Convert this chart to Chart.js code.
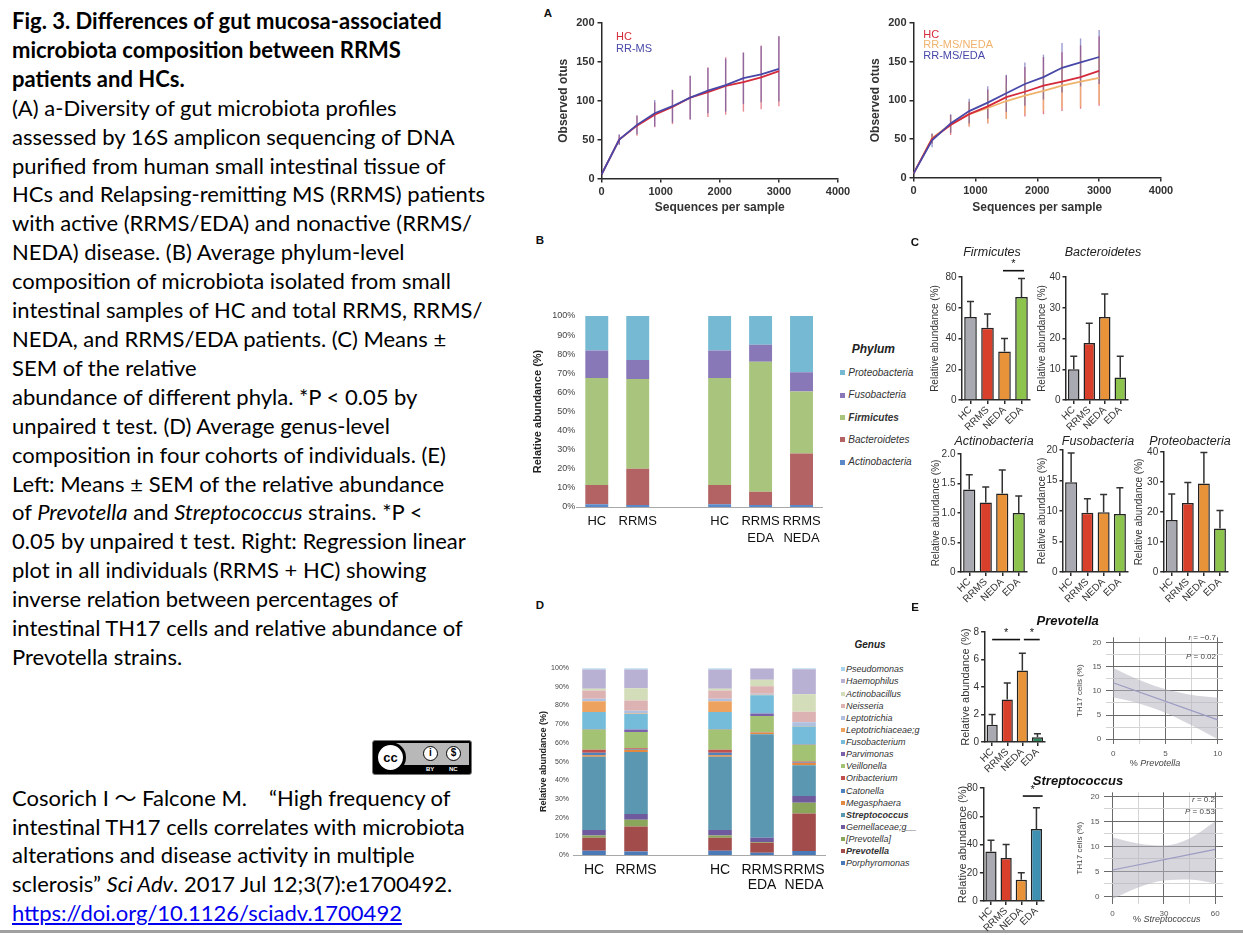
<!DOCTYPE html>
<html>
<head>
<meta charset="utf-8">
<script src="https://cdn.jsdelivr.net/npm/chart.js@4.4.1/dist/chart.umd.min.js"></script>
<style>
  body { margin: 0; background: #fff; }
  #page { position: relative; width: 1243px; height: 935px; overflow: hidden; background: #fff; }
  canvas { position: absolute; }
  .cap { position: absolute; left: 12px; font-family: Lato, 'Noto Sans', 'Noto Sans CJK JP', sans-serif; font-size: 22px; line-height: 28.9px; color: #000; white-space: nowrap; }
  .cap b { font-weight: 700; }
  .t { position: absolute; font-family: 'Liberation Sans', Arial, sans-serif; white-space: nowrap; line-height: 1; }
  .lbl { font-weight: bold; font-size: 11.5px; color: #111; }
  .sw { position: absolute; width: 5px; height: 5px; }
  #rule { position: absolute; left: 0; top: 930px; width: 1243px; height: 3px; background: #a0a0a0; }
  #cc { position: absolute; left: 372px; top: 740px; width: 100px; height: 35px; background: #000; border-radius: 3px; border: 1px solid #777; box-sizing: border-box; }
  #cc .band { position: absolute; left: 22px; top: 2px; right: 2px; height: 22px; background: #b8b8b8; }
  #cc .ring { position: absolute; left: 2px; top: 1px; width: 31px; height: 31px; border-radius: 50%; background: #fff; border: 3px solid #000; box-sizing: border-box; font: bold 13px 'Liberation Sans', sans-serif; text-align: center; line-height: 25px; }
  #cc .ico { position: absolute; top: 5px; width: 15px; height: 15px; border-radius: 50%; background: #fff; border: 1.5px solid #000; box-sizing: border-box; font: bold 10px 'Liberation Sans', sans-serif; text-align: center; line-height: 12px; }
  #cc .sm { position: absolute; top: 25px; font: bold 6px 'Liberation Sans', sans-serif; color: #fff; }
</style>
</head>
<body>
<div id="page">

<div class="cap" style="top:7px">
<b>Fig. 3. Differences of gut mucosa-associated</b><br>
<b>microbiota composition between RRMS</b><br>
<b>patients and HCs.</b><br>
(A) a-Diversity of gut microbiota profiles<br>
assessed by 16S amplicon sequencing of DNA<br>
purified from human small intestinal tissue of<br>
HCs and Relapsing-remitting MS (RRMS) patients<br>
with active (RRMS/EDA) and nonactive (RRMS/<br>
NEDA) disease. (B) Average phylum-level<br>
composition of microbiota isolated from small<br>
intestinal samples of HC and total RRMS, RRMS/<br>
NEDA, and RRMS/EDA patients. (C) Means ±<br>
SEM of the relative<br>
abundance of different phyla. *P &lt; 0.05 by<br>
unpaired t test. (D) Average genus-level<br>
composition in four cohorts of individuals. (E)<br>
Left: Means ± SEM of the relative abundance<br>
of <i>Prevotella</i> and <i>Streptococcus</i> strains. *P &lt;<br>
0.05 by unpaired t test. Right: Regression linear<br>
plot in all individuals (RRMS + HC) showing<br>
inverse relation between percentages of<br>
intestinal TH17 cells and relative abundance of<br>
Prevotella strains.
</div>

<div id="cc">
  <div class="band"></div>
  <div class="ring">cc</div>
  <div class="ico" style="left:50px">i</div>
  <div class="ico" style="left:73px">$</div>
  <div class="sm" style="left:53px">BY</div>
  <div class="sm" style="left:76px">NC</div>
</div>

<div class="cap" style="top:783.8px;line-height:28.7px">
Cosorich I 〜 Falcone M.　“High frequency of<br>
intestinal TH17 cells correlates with microbiota<br>
alterations and disease activity in multiple<br>
sclerosis” <i>Sci Adv</i>. 2017 Jul 12;3(7):e1700492.<br>
<span style="color:#0000ee;text-decoration:underline">https://doi.org/10.1126/sciadv.1700492</span>
</div>

<div id="rule"></div>
</div>

<script>
// ---------- data ----------
// A: rarefaction curves (observed OTUs vs sequences per sample), mean and sd
const seqDepth   = [0, 300, 600, 900, 1200, 1500, 1800, 2100, 2400, 2700, 3000];
const otuHC      = [5, 50, 68, 82, 92, 104, 111, 119, 124, 130, 138];
const otuHCsd    = [0, 6, 13, 16, 22, 28, 32, 37, 38, 41, 45];
const otuRRMS    = [5, 50, 69, 84, 93, 104, 113, 120, 129, 134, 141];
const otuRRMSsd  = [0, 7, 12, 17, 21, 28, 29, 34, 33, 36, 42];
const otuNEDA    = [5, 51, 69, 82, 90, 99, 106, 112, 119, 124, 129];
const otuNEDAsd  = [0, 6, 10, 16, 19, 23, 24, 26, 29, 32, 33];
const otuEDA     = [5, 48, 70, 86, 97, 109, 121, 130, 142, 149, 156];
const otuEDAsd   = [0, 9, 12, 16, 21, 24, 28, 29, 32, 31, 35];

// B: phylum composition (%), third slot is an empty gap
const groups   = ['HC', 'RRMS', '', 'HC', ['RRMS', 'EDA'], ['RRMS', 'NEDA']];
const phylumNames = ['Actinobacteria', 'Bacteroidetes', 'Firmicutes', 'Fusobacteria', 'Proteobacteria'];
const phActino = [1.5, 1, null, 1.5, 1, 1];
const phBact   = [10, 19, null, 10, 7, 27];
const phFirm   = [56, 47, null, 56, 68, 32.5];
const phFuso   = [14.5, 10, null, 14.5, 9, 10];
const phProteo = [18, 23, null, 18, 15, 29.5];
const phylumColors = ['#5a88c8', '#b36363', '#a9c57d', '#8878b8', '#75b9d2'];

// C / E: means and top of SEM bar
const cohorts   = ['HC', 'RRMS', 'NEDA', 'EDA'];
const firmMean  = [54, 47, 31.5, 67];     const firmErr  = [64, 56, 40, 79];
const bactMean  = [10, 18.5, 27, 7.3];    const bactErr  = [14.2, 25, 34.5, 14.2];
const actMean   = [1.4, 1.18, 1.33, 1.0]; const actErr   = [1.65, 1.44, 1.73, 1.29];
const fusMean   = [14.7, 9.7, 9.8, 9.5];  const fusErr   = [19.5, 12, 12.7, 13.8];
const proMean   = [17.3, 23, 29.5, 14.5]; const proErr   = [26, 29.8, 39.8, 20.5];
const prevMean  = [1.25, 3.1, 5.2, 0.35]; const prevErr  = [2.0, 4.3, 6.45, 0.6];
const strepMean = [35, 30.5, 15, 51];     const strepErr = [43, 40, 20, 66];

// D: genus composition (%), listed bottom to top of the stack
const genusNames = ['Porphyromonas', 'Prevotella', '[Prevotella]', 'Gemellaceae;g__', 'Streptococcus',
  'Megasphaera', 'Catonella', 'Oribacterium', 'Veillonella', 'Parvimonas', 'Fusobacterium',
  'Leptotrichiaceae;g', 'Leptotrichia', 'Neisseria', 'Actinobacillus', 'Haemophilus', 'Pseudomonas'];
const genusColors = ['#4a7ab8', '#a34c4c', '#8aa65a', '#6f5a9e', '#5b97b0',
  '#e3893f', '#4f81bd', '#c0504d', '#a3c274', '#7a62aa', '#74bcd9',
  '#eda35f', '#aebfe0', '#dcb2b3', '#d4ddb9', '#b9b1d3', '#a9d3ec'];
const gHC   = [2.3, 6.9, 1.2, 3.0, 39.2, 0.8, 1.3, 1.7, 10.8, 0.3, 9.0, 5.8, 1.4, 4.3, 1.0, 10.3, 0.7];
const gRRMS = [1.9, 13.4, 3.6, 3.1, 33.2, 1.2, 0.3, 0.5, 8.6, 1.4, 8.3, 0.3, 1.4, 5.5, 6.5, 10.1, 0.7];
const gEDA  = [1.2, 5.3, 0.5, 2.2, 55.5, 0.9, 0.1, 0.2, 8.5, 1.4, 9.7, 0.3, 0.5, 4.0, 3.5, 6.2, 0.0];
const gNEDA = [2.1, 20.1, 5.8, 3.6, 16.5, 1.2, 0.2, 0.6, 8.9, 0.3, 9.5, 0.2, 2.0, 5.7, 9.4, 13.4, 0.5];

// E right: regression fits with confidence band
const prevBandX  = [0, 2, 4, 6, 8, 10];
const prevBandLo = [8.7, 7.7, 6.3, 4.5, 2.3, 0.0];
const prevBandHi = [14.8, 12.7, 11.0, 9.8, 9.0, 8.6];
const prevLineX  = [0, 10];
const prevLineY  = [11.7, 4.0];
const strepBandX  = [0, 15, 30, 45, 60];
const strepBandLo = [-0.5, 1.8, 3.2, 3.4, 2.6];
const strepBandHi = [11.8, 10.6, 10.2, 11.6, 15.0];
const strepLineX  = [0, 60];
const strepLineY  = [5.3, 9.4];
const th17Ticks = [0, 2.5, 5, 7.5, 10, 12.5, 15, 17.5, 20];
const th17Major = [0, 5, 10, 15, 20];
const prevTicks = [0, 2.5, 5, 7.5, 10];
const prevMajor = [0, 5, 10];
const strepTicks = [0, 15, 30, 45, 60];
const strepMajor = [0, 30, 60];

// ---------- helpers ----------
Chart.defaults.font.family = "'Liberation Sans', Arial, sans-serif";
Chart.defaults.color = '#333';
const page = document.getElementById('page');
const pts = (xs, ys) => xs.map((x, i) => ({ x: x, y: ys[i] }));

// error bars and significance brackets, placed through the chart scales
function drawErrors(chart, when) {
  const ctx = chart.ctx, ys = chart.scales.y;
  const list = chart.data.datasets.map((d, i) => [d, i]).filter(p => p[0].err && p[0].errWhen === when);
  list.sort((a, b) => (b[0].errOrder || 0) - (a[0].errOrder || 0));
  list.forEach(([ds, i]) => {
    const meta = chart.getDatasetMeta(i);
    ctx.save();
    ctx.strokeStyle = ds.errColor;
    ctx.lineWidth = ds.errWidth || 1.5;
    meta.data.forEach((el, j) => {
      const v = ds.data[j];
      const val = (v && typeof v === 'object') ? v.y : v;
      if (val == null) return;
      let lo, hi;
      if (ds.errMode === 'sd') { lo = val - ds.err[j]; hi = val + ds.err[j]; }
      else { lo = val; hi = ds.err[j]; }
      const y1 = ys.getPixelForValue(lo), y2 = ys.getPixelForValue(hi);
      ctx.beginPath();
      ctx.moveTo(el.x, y1); ctx.lineTo(el.x, y2);
      if (ds.cap) { ctx.moveTo(el.x - ds.cap, y2); ctx.lineTo(el.x + ds.cap, y2); }
      ctx.stroke();
    });
    ctx.restore();
  });
}
const extras = {
  id: 'extras',
  beforeDatasetsDraw(chart) { drawErrors(chart, 'before'); },
  afterDatasetsDraw(chart) {
    drawErrors(chart, 'after');
    const ds = chart.data.datasets[0];
    if (!ds.sig) return;
    const ctx = chart.ctx, xs = chart.scales.x, ys = chart.scales.y;
    ctx.save();
    ctx.strokeStyle = '#111'; ctx.lineWidth = 1.6; ctx.fillStyle = '#111';
    ctx.font = "11px 'Liberation Sans', Arial, sans-serif";
    ctx.textAlign = 'center'; ctx.textBaseline = 'bottom';
    ds.sig.forEach(([a, b, v]) => {
      const x1 = xs.getPixelForValue(a), x2 = xs.getPixelForValue(b), y = ys.getPixelForValue(v);
      ctx.beginPath(); ctx.moveTo(x1, y); ctx.lineTo(x2, y); ctx.stroke();
      ctx.fillText('*', (x1 + x2) / 2, y - 1);
    });
    ctx.restore();
  }
};

// put a chart so that its plot area lands on the box x0..x1, y0..y1
function chartAt(box, config) {
  const c = document.createElement('canvas');
  const w = Math.round(box.x1 - box.x0 + box.l + box.r);
  const h = Math.round(box.y1 - box.y0 + box.t + box.b);
  c.width = w; c.height = h;
  c.style.left = (box.x0 - box.l) + 'px';
  c.style.top = (box.y0 - box.t) + 'px';
  c.style.width = w + 'px'; c.style.height = h + 'px';
  page.appendChild(c);
  const o = config.options;
  o.responsive = false;
  o.animation = false;
  o.layout = { padding: { left: 0, top: box.t, right: box.r, bottom: 0 } };
  o.plugins = { legend: { display: false }, tooltip: { enabled: false } };
  o.scales.x.afterFit = s => { s.height = box.b; };
  o.scales.y.afterFit = s => { s.width = box.l; };
  config.plugins = [extras];
  return new Chart(c, config);
}

function text(html, x, y, css, anchor) {
  const d = document.createElement('div');
  d.className = 't';
  d.innerHTML = html;
  d.style.cssText += css;
  d.style.left = x + 'px';
  d.style.top = y + 'px';
  d.style.transform = anchor === 'left' ? 'translate(0,-50%)' : anchor === 'right' ? 'translate(-100%,-50%)' : 'translate(-50%,-50%)';
  page.appendChild(d);
  return d;
}

// ---------- A: rarefaction ----------
function axisDark(extra) {
  return Object.assign({
    grid: { drawOnChartArea: false, drawTicks: true, tickLength: 4, color: '#2a2a2a', lineWidth: 1.5 },
    border: { display: true, color: '#2a2a2a', width: 1.5 }
  }, extra);
}
function rarefaction(box, series) {
  return chartAt(box, {
    type: 'line',
    data: {
      datasets: series.map(s => ({
        data: pts(seqDepth, s.mean), err: s.sd, errMode: 'sd', errWhen: 'before', errOrder: s.order,
        errColor: s.errColor, errWidth: 1.4, borderColor: s.color, borderWidth: 1.8,
        pointRadius: 0, tension: 0, fill: false
      }))
    },
    options: {
      scales: {
        x: axisDark({ type: 'linear', min: 0, max: 4000,
          ticks: { stepSize: 1000, padding: 3, color: '#333', font: { size: 11, weight: 'bold' }, callback: v => String(v) },
          title: { display: true, text: 'Sequences per sample', color: '#333', padding: 0, font: { size: 12, weight: 'bold' } } }),
        y: axisDark({ type: 'linear', min: 0, max: 200,
          ticks: { stepSize: 50, padding: 3, color: '#333', font: { size: 11, weight: 'bold' }, callback: v => String(v) },
          title: { display: true, text: 'Observed otus', color: '#333', padding: 0, font: { size: 12, weight: 'bold' } } })
      }
    }
  });
}
const RED = '#d42a3a', BLUE = '#4848a8', ORANGE = '#f0b36c';
rarefaction({ x0: 601, x1: 837.7, y0: 22.7, y1: 177.7, l: 45.5, t: 12, r: 16, b: 36.5 }, [
  { mean: otuRRMS, sd: otuRRMSsd, color: BLUE, errColor: 'rgba(72,72,168,0.55)', order: 1 },
  { mean: otuHC, sd: otuHCsd, color: RED, errColor: 'rgba(212,42,58,0.55)', order: 2 }
]);
rarefaction({ x0: 913.3, x1: 1161, y0: 22.7, y1: 176.7, l: 45.5, t: 12, r: 16, b: 37.5 }, [
  { mean: otuEDA, sd: otuEDAsd, color: BLUE, errColor: 'rgba(72,72,168,0.55)', order: 1 },
  { mean: otuHC, sd: otuHCsd, color: RED, errColor: 'rgba(212,42,58,0.6)', order: 3 },
  { mean: otuNEDA, sd: otuNEDAsd, color: ORANGE, errColor: 'rgba(240,179,108,0.75)', order: 2 }
]);
const leg = 'font-size:11px;';
text('HC', 616, 36, leg + 'color:' + RED, 'left');
text('RR-MS', 616, 47.7, leg + 'color:' + BLUE, 'left');
text('HC', 923.3, 33.5, leg + 'color:' + RED, 'left');
text('RR-MS/NEDA', 923.3, 44.2, leg + 'color:' + ORANGE, 'left');
text('RR-MS/EDA', 923.3, 54.7, leg + 'color:' + BLUE, 'left');

// ---------- B and D: stacked composition ----------
function composition(box, names, colors, values, opt) {
  return chartAt(box, {
    type: 'bar',
    data: {
      labels: groups,
      datasets: names.map((n, i) => ({
        label: n, data: values[i], backgroundColor: colors[i], borderWidth: 0,
        barPercentage: 0.56, categoryPercentage: 1
      }))
    },
    options: {
      scales: {
        x: { stacked: true, grid: { display: false, drawTicks: false },
          border: { display: true, color: '#a8a8a8', width: 1 },
          ticks: { padding: opt.xPad, color: '#111', autoSkip: false, maxRotation: 0,
            font: { size: opt.xFont, lineHeight: opt.xLine } } },
        y: { stacked: true, min: 0, max: 100,
          grid: { display: false, drawTicks: false }, border: { display: false },
          ticks: { stepSize: 10, padding: opt.yPad, color: '#444', font: { size: opt.yFont }, callback: v => v + '%' },
          title: { display: true, text: 'Relative abundance (%)', color: '#222', padding: 0,
            font: { size: opt.titleFont, weight: 'bold' } } }
      }
    }
  });
}
const gapValue = (arr, i) => [arr[0][i], arr[1][i], null, arr[0][i], arr[2][i], arr[3][i]];
composition({ x0: 576.7, x1: 823.1, y0: 316, y1: 506.7, l: 45.3, t: 8, r: 4, b: 45 },
  phylumNames, phylumColors, [phActino, phBact, phFirm, phFuso, phProteo],
  { xPad: 6, xFont: 13, xLine: 1.3, yPad: 1, yFont: 9, titleFont: 11 });
composition({ x0: 572.6, x1: 828.2, y0: 666, y1: 855.3, l: 35, t: 6, r: 4, b: 40 },
  genusNames, genusColors, genusNames.map((n, i) => gapValue([gHC, gRRMS, gEDA, gNEDA], i)),
  { xPad: 8, xFont: 14, xLine: 1.05, yPad: 4, yFont: 7, titleFont: 9 });

// B legend (top of list = top of stack)
text('Phylum', 873.3, 349.3, 'font-size:12px;font-weight:bold;font-style:italic;color:#222');
[4, 3, 2, 1, 0].forEach((k, i) => {
  const y = 372.7 + i * 22.4;
  const bold = phylumNames[k] === 'Firmicutes' ? 'font-weight:bold;' : '';
  const sw = document.createElement('div');
  sw.className = 'sw'; sw.style.left = '840px'; sw.style.top = (y - 2.5) + 'px'; sw.style.background = phylumColors[k];
  page.appendChild(sw);
  text(phylumNames[k], 848.3, y, 'font-size:10px;font-style:italic;color:#333;' + bold, 'left');
});
// D legend
text('Genus', 870, 645, 'font-size:10px;font-weight:bold;font-style:italic;color:#222');
genusNames.slice().reverse().forEach((n, i) => {
  const k = genusNames.length - 1 - i;
  const y = 669.3 + i * 12.125;
  const bold = (n === 'Streptococcus' || n === 'Prevotella') ? 'font-weight:bold;' : '';
  const sw = document.createElement('div');
  sw.className = 'sw'; sw.style.width = '4px'; sw.style.height = '4px';
  sw.style.left = '840.7px'; sw.style.top = (y - 2) + 'px'; sw.style.background = genusColors[k];
  page.appendChild(sw);
  text(n, 846, y, 'font-size:9px;font-style:italic;color:#333;' + bold, 'left');
});

// ---------- C and E left: mean ± SEM bars ----------
const GREY = '#a9a9b1', BRED = '#d9402b', BORANGE = '#e8923a';
function meanBars(box, means, errs, colors, yMax, yStep, yTitleSize, sig) {
  return chartAt(box, {
    type: 'bar',
    data: {
      labels: cohorts,
      datasets: [{ data: means, err: errs, errMode: 'top', errWhen: 'after', cap: 3.5, errColor: '#333',
        errWidth: 1.5, backgroundColor: colors, borderColor: '#222', borderWidth: 1.5,
        barPercentage: 0.74, categoryPercentage: 1, sig: sig }]
    },
    options: {
      scales: {
        x: axisDark({ offset: true,
          grid: { drawOnChartArea: false, drawTicks: true, tickLength: 4, offset: false, color: '#2a2a2a', lineWidth: 1.5 },
          ticks: { minRotation: 45, maxRotation: 45, autoSkip: false, padding: 0, color: '#333', font: { size: 10 } } }),
        y: axisDark({ min: 0, max: yMax,
          grid: { drawOnChartArea: false, drawTicks: true, tickLength: 3.5, color: '#2a2a2a', lineWidth: 1.5 },
          ticks: { stepSize: yStep, padding: 2, color: '#333', font: { size: 10 } },
          title: { display: true, text: 'Relative abundance (%)', color: '#333', padding: 0, font: { size: yTitleSize } } })
      }
    }
  });
}
const cColors = [GREY, BRED, BORANGE, '#8cc44e'];
meanBars({ x0: 962, x1: 1030, y0: 277.3, y1: 400, l: 33, t: 24, r: 6, b: 32 }, firmMean, firmErr, cColors, 80, 20, 10, [[1.91, 3.15, 84.1]]);
meanBars({ x0: 1065.7, x1: 1128, y0: 277, y1: 400, l: 30, t: 8, r: 6, b: 32 }, bactMean, bactErr, cColors, 40, 10, 10);
meanBars({ x0: 961, x1: 1027, y0: 454.3, y1: 572.3, l: 31, t: 8, r: 6, b: 32 }, actMean, actErr, cColors, 2, 0.5, 10);
meanBars({ x0: 1062.7, x1: 1128, y0: 450, y1: 572, l: 27, t: 8, r: 6, b: 32 }, fusMean, fusErr, cColors, 20, 5, 10);
meanBars({ x0: 1164, x1: 1228, y0: 451.7, y1: 572, l: 30.7, t: 8, r: 6, b: 32 }, proMean, proErr, cColors, 40, 10, 10);
meanBars({ x0: 984.3, x1: 1045, y0: 631.7, y1: 741.7, l: 25.6, t: 12, r: 6, b: 36 }, prevMean, prevErr,
  [GREY, BRED, BORANGE, '#2f8a5e'], 8, 2, 11, [[0, 1.85, 7.45], [2.1, 3.15, 7.45]]);
meanBars({ x0: 983.3, x1: 1044, y0: 787.7, y1: 901, l: 27.4, t: 12, r: 6, b: 36 }, strepMean, strepErr,
  [GREY, BRED, BORANGE, '#3f8fb0'], 80, 20, 11, [[2.1, 3.41, 74.3]]);

const ttl = 'font-size:12.5px;font-style:italic;color:#222;';
text('Firmicutes', 992, 252, ttl);
text('Bacteroidetes', 1103, 252, ttl);
text('Actinobacteria', 994, 440.7, ttl);
text('Fusobacteria', 1098, 440.7, ttl);
text('Proteobacteria', 1190, 440.7, ttl);
text('Prevotella', 1067.7, 620, 'font-size:13px;font-style:italic;font-weight:bold;color:#111;');
text('Streptococcus', 1078, 780, 'font-size:13px;font-style:italic;font-weight:bold;color:#111;');

// ---------- E right: regression ----------
function gridAxis(min, max, ticks, major, title) {
  return {
    type: 'linear', min: min, max: max,
    afterBuildTicks: s => { s.ticks = ticks.map(v => ({ value: v })); },
    grid: { drawTicks: false, color: c => major.includes(c.tick.value) ? '#6a6a6a' : '#d4d4d4', lineWidth: 1 },
    border: { display: false },
    ticks: { padding: 4.5, color: '#555', font: { size: 8 }, callback: v => major.includes(v) ? String(v) : '' },
    title: title ? { display: true, text: title, color: '#444', padding: 0, font: { size: 8 } } : { display: false }
  };
}
function regression(box, bx, lo, hi, lx, ly, xr, xTicks, xMajor) {
  return chartAt(box, {
    type: 'line',
    data: {
      datasets: [
        { data: pts(bx, lo), borderWidth: 0, pointRadius: 0, fill: false, cubicInterpolationMode: 'monotone' },
        { data: pts(bx, hi), borderWidth: 0, pointRadius: 0, fill: '-1', backgroundColor: 'rgba(180,180,192,0.55)', cubicInterpolationMode: 'monotone' },
        { data: pts(lx, ly), borderColor: '#7d7dc8', borderWidth: 1.1, pointRadius: 0, fill: false }
      ]
    },
    options: {
      scales: {
        x: gridAxis(xr[0], xr[1], xTicks, xMajor),
        y: gridAxis(xr[2], xr[3], th17Ticks, th17Major, 'TH17 cells (%)')
      }
    }
  });
}
regression({ x0: 1106, x1: 1222.9, y0: 633.5, y1: 743.3, l: 30.8, t: 6, r: 8, b: 16 },
  prevBandX, prevBandLo, prevBandHi, prevLineX, prevLineY, [-0.7, 10.5, -1, 21.1], prevTicks, prevMajor);
regression({ x0: 1104.2, x1: 1222.7, y0: 789.2, y1: 904.5, l: 29, t: 6, r: 8, b: 16 },
  strepBandX, strepBandLo, strepBandHi, strepLineX, strepLineY, [-5, 64.5, -1.5, 20.8], strepTicks, strepMajor);
const small = 'font-size:8px;color:#444;';
text('<i>r</i> = −0.7', 1216, 638.3, small, 'right');
text('<i>P</i> = 0.02', 1216, 657, small, 'right');
text('<i>r</i> = 0.2', 1215, 800, small, 'right');
text('<i>P</i> = 0.53', 1215, 811.7, small, 'right');
text('% <i>Prevotella</i>', 1155, 762.7, 'font-size:9px;color:#444;');
text('% <i>Streptococcus</i>', 1166.7, 919, 'font-size:9px;color:#444;');

// panel letters
[['A', 548, 14], ['B', 540, 241], ['C', 915, 243], ['D', 540, 606], ['E', 915, 608]]
  .forEach(([s, x, y]) => text(s, x, y, '').classList.add('lbl'));
</script>
</body>
</html>
